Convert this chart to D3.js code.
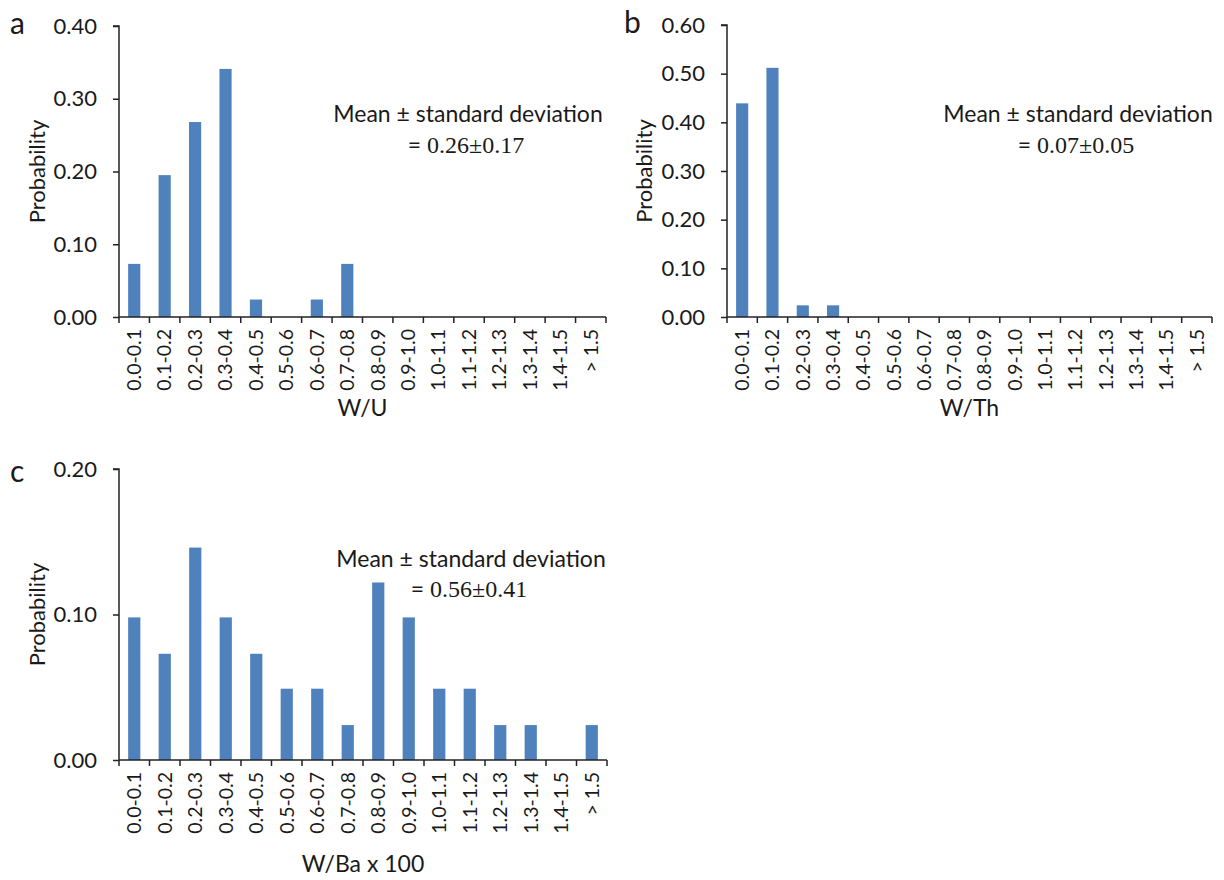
<!DOCTYPE html>
<html>
<head>
<meta charset="utf-8">
<script src="https://cdn.jsdelivr.net/npm/d3@7"></script>
<style>
  html, body { margin: 0; padding: 0; background: #fff; }
  svg { display: block; }
  text { font-family: Lato, "Open Sans", sans-serif; fill: #1a1a1a; }
</style>
</head>
<body>
<svg id="fig" width="1224" height="880"></svg>
<script>
// Ratio bins shared by all three histograms
const bins = ["0.0-0.1", "0.1-0.2", "0.2-0.3", "0.3-0.4", "0.4-0.5", "0.5-0.6",
              "0.6-0.7", "0.7-0.8", "0.8-0.9", "0.9-1.0", "1.0-1.1", "1.1-1.2",
              "1.2-1.3", "1.3-1.4", "1.4-1.5", "> 1.5"];

// Probability per bin
const probWU  = [0.073, 0.195, 0.268, 0.341, 0.024, 0, 0.024, 0.073, 0, 0, 0, 0, 0, 0, 0, 0];
const probWTh = [0.439, 0.512, 0.024, 0.024, 0, 0, 0, 0, 0, 0, 0, 0, 0, 0, 0, 0];
const probWBa = [0.098, 0.073, 0.146, 0.098, 0.073, 0.049, 0.049, 0.024, 0.122, 0.098,
                 0.049, 0.049, 0.024, 0.024, 0, 0.024];

// Y-axis ticks
const ticksA = [0, 0.1, 0.2, 0.3, 0.4];
const ticksB = [0, 0.1, 0.2, 0.3, 0.4, 0.5, 0.6];
const ticksC = [0, 0.1, 0.2];

// Axis titles and summary statistics
const xTitles = ["W/U", "W/Th", "W/Ba x 100"];
const statValues = ["0.26±0.17", "0.07±0.05", "0.56±0.41"];
const panelLetters = ["a", "b", "c"];

const svg = d3.select("#fig");
const barColor = "#4f81bd";
const axisColor = "#222";

function drawPanel(p) {
  const g = svg.append("g");

  const x = d3.scaleBand()
    .domain(bins)
    .range([p.left, p.right])
    .paddingInner(0.6)
    .paddingOuter(0.3);

  const y = d3.scaleLinear()
    .domain([0, p.yMax])
    .range([p.bottom, p.top]);

  // bars
  g.selectAll("rect.bar")
    .data(bins.map((b, i) => ({ bin: b, v: p.values[i] })))
    .join("rect")
    .attr("class", "bar")
    .attr("x", d => x(d.bin))
    .attr("width", x.bandwidth())
    .attr("y", d => y(d.v))
    .attr("height", d => y(0) - y(d.v))
    .attr("fill", barColor);

  // y axis
  const yAxis = g.append("g")
    .attr("transform", `translate(${p.left},0)`)
    .call(d3.axisLeft(y).tickValues(p.ticks).tickFormat(d3.format(".2f"))
      .tickSize(6).tickPadding(16));
  yAxis.select(".domain").attr("stroke", axisColor).attr("stroke-width", 1.5)
    .attr("d", `M-6,${p.top}H0V${p.bottom}`);
  yAxis.selectAll(".tick line").attr("stroke", axisColor).attr("stroke-width", 1.5);
  yAxis.selectAll(".tick text").attr("font-size", 22).attr("fill", "#1a1a1a")
    .style("font-family", "Lato, sans-serif");

  // x axis: labels at bin centres, tick marks at bin boundaries
  const xAxis = g.append("g")
    .attr("transform", `translate(0,${p.bottom})`)
    .call(d3.axisBottom(x).tickSize(0).tickPadding(0));
  xAxis.select(".domain").attr("stroke", axisColor).attr("stroke-width", 1.5)
    .attr("d", `M${p.left},0H${p.right}`);
  xAxis.selectAll(".tick text")
    .attr("font-size", 19.5)
    .attr("fill", "#1a1a1a")
    .style("font-family", "Lato, sans-serif")
    .attr("text-anchor", "end")
    .attr("dy", "0.35em")
    .attr("transform", "translate(0,12) rotate(-90)")
    .attr("y", 0)
    .attr("x", 0);

  const step = x.step();
  const bounds = d3.range(bins.length + 1).map(i => p.left + i * step);
  xAxis.selectAll("line.bound")
    .data(bounds)
    .join("line")
    .attr("class", "bound")
    .attr("x1", d => d).attr("x2", d => d)
    .attr("y1", 0).attr("y2", 6)
    .attr("stroke", axisColor).attr("stroke-width", 1.5);

  // axis titles
  g.append("text")
    .attr("x", (p.left + p.right) / 2)
    .attr("y", p.bottom + p.titleGap)
    .attr("text-anchor", "middle")
    .attr("font-size", 23)
    .text(p.xTitle);

  g.append("text")
    .attr("transform", `translate(${p.yLabelX},${(p.top + p.bottom) / 2}) rotate(-90)`)
    .attr("text-anchor", "middle")
    .attr("dy", "0.35em")
    .attr("font-size", 22)
    .text("Probability");

  // panel letter
  g.append("text")
    .attr("x", p.letterX)
    .attr("y", p.letterY)
    .attr("font-size", 30)
    .text(p.letter);

  // summary statistics
  g.append("text")
    .attr("x", p.statX)
    .attr("y", p.statY)
    .attr("text-anchor", "middle")
    .attr("font-size", 23)
    .text("Mean ± standard deviation");

  const s2 = g.append("text")
    .attr("x", p.statX - 2)
    .attr("y", p.statY + p.statGap)
    .attr("text-anchor", "middle")
    .attr("font-size", 23);
  s2.append("tspan").text("= ");
  s2.append("tspan")
    .style("font-family", "'Liberation Serif', 'Times New Roman', serif")
    .attr("font-size", 24)
    .text(p.stat);
}

const panels = [
  { values: probWU, ticks: ticksA, yMax: 0.4, left: 119, right: 606, top: 26, bottom: 317,
    xTitle: xTitles[0], stat: statValues[0], letter: panelLetters[0], titleGap: 99,
    yLabelX: 37, letterX: 10, letterY: 34, statX: 468, statY: 122, statGap: 31 },
  { values: probWTh, ticks: ticksB, yMax: 0.6, left: 727, right: 1212, top: 25, bottom: 317,
    xTitle: xTitles[1], stat: statValues[1], letter: panelLetters[1], titleGap: 99,
    yLabelX: 644, letterX: 624, letterY: 33, statX: 1078, statY: 122, statGap: 31 },
  { values: probWBa, ticks: ticksC, yMax: 0.2, left: 119, right: 607, top: 469, bottom: 760,
    xTitle: xTitles[2], stat: statValues[2], letter: panelLetters[2], titleGap: 112,
    yLabelX: 37, letterX: 10, letterY: 482, statX: 471, statY: 567, statGap: 30 }
];

panels.forEach(drawPanel);
</script>
</body>
</html>
